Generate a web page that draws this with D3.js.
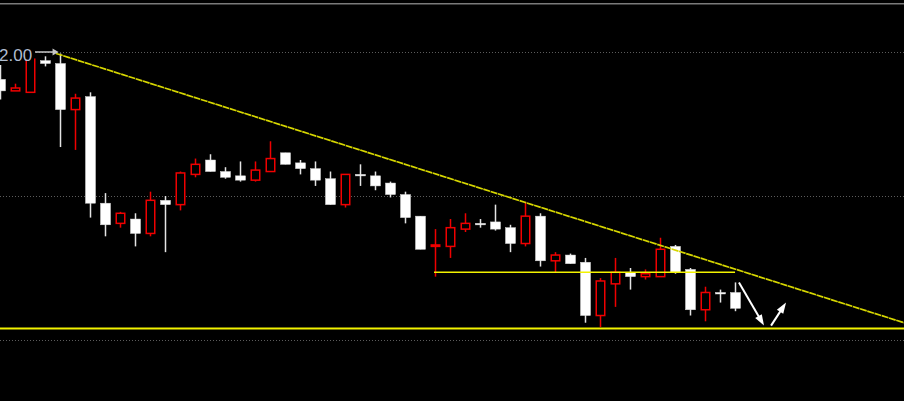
<!DOCTYPE html>
<html>
<head>
<meta charset="utf-8">
<script src="https://cdn.jsdelivr.net/npm/d3@7"></script>
<style>
	html, body { margin: 0; padding: 0; background: #000; }
	#graph { width: 904px; height: 401px; overflow: hidden; }
</style>
</head>
<body>
<div id="graph"></div>
<script>
	// daily candles, oldest first
	var opens = [1.981, 1.973, 1.972, 1.994, 1.992, 1.960, 1.969, 1.895, 1.881, 1.884,
		1.874, 1.897, 1.894, 1.915, 1.925, 1.917, 1.914, 1.911, 1.917, 1.930,
		1.923, 1.919, 1.912, 1.894, 1.915, 1.914, 1.909, 1.901, 1.886, 1.865,
		1.865, 1.877, 1.881, 1.882, 1.878, 1.867, 1.886, 1.855, 1.859, 1.854,
		1.817, 1.839, 1.847, 1.844, 1.844, 1.865, 1.849, 1.821, 1.833, 1.833];
	var highs = [1.991, 1.978, 1.995, 1.997, 1.999, 1.971, 1.972, 1.902, 1.889, 1.888,
		1.903, 1.900, 1.917, 1.926, 1.929, 1.920, 1.924, 1.924, 1.938, 1.930,
		1.925, 1.924, 1.917, 1.915, 1.922, 1.917, 1.910, 1.903, 1.886, 1.877,
		1.884, 1.888, 1.884, 1.894, 1.880, 1.896, 1.888, 1.861, 1.860, 1.857,
		1.843, 1.857, 1.850, 1.849, 1.871, 1.866, 1.850, 1.837, 1.835, 1.840];
	var lows = [1.967, 1.973, 1.972, 1.990, 1.934, 1.932, 1.885, 1.872, 1.878, 1.865,
		1.872, 1.861, 1.890, 1.913, 1.917, 1.912, 1.910, 1.910, 1.917, 1.922,
		1.915, 1.907, 1.894, 1.892, 1.907, 1.904, 1.899, 1.881, 1.863, 1.844,
		1.857, 1.875, 1.878, 1.876, 1.861, 1.865, 1.851, 1.847, 1.853, 1.812,
		1.809, 1.823, 1.835, 1.842, 1.844, 1.846, 1.817, 1.813, 1.826, 1.820];
	var closes = [1.973, 1.975, 1.995, 1.992, 1.960, 1.968, 1.895, 1.880, 1.888, 1.874,
		1.897, 1.894, 1.916, 1.922, 1.917, 1.913, 1.911, 1.918, 1.926, 1.922,
		1.919, 1.911, 1.894, 1.915, 1.914, 1.907, 1.901, 1.885, 1.863, 1.866,
		1.878, 1.881, 1.880, 1.877, 1.867, 1.886, 1.855, 1.859, 1.853, 1.817,
		1.841, 1.847, 1.844, 1.846, 1.863, 1.847, 1.821, 1.833, 1.832, 1.822];

	var gridprices = [2.00, 1.90, 1.80];
	var labelprice = 2.00;

	// drawn lines, in candle index / price
	var trendline = [{i: 3.7, price: 1.999}, {i: 60.23, price: 1.812}];
	var supportline = [{i: 28.9, price: 1.847}, {i: 48.97, price: 1.847}];
	var floorline = [{i: -1, price: 1.808}, {i: 61, price: 1.808}];
	var labelmarker = [{i: 2.3, price: 2.00}, {i: 3.87, price: 2.00}];
	var arrows = [
		[{i: 49.23, price: 1.840}, {i: 50.9, price: 1.810}],
		[{i: 51.37, price: 1.810}, {i: 52.37, price: 1.826}],
	];

	var config = {
		width: 904,
		height: 401,
		bodywidth: 10,
		up: "#f00000",
		down: "#ffffff",
		yellow: "#f2f200",
		trend: "#d6d600",
		grid: "#5c5c5c",
	};

	var dataset = opens.map((o, k) => ({i: k, open: o, high: highs[k], low: lows[k], close: closes[k]}));

	var svg = d3.select("#graph").append("svg")
		.attr("width", config.width)
		.attr("height", config.height)
		.style("display", "block")
		.style("background", "#000");

	var xScale = d3.scaleLinear().domain([0, 60]).range([0.5, 900.5]);
	var yScale = d3.scaleLinear().domain([1.80, 2.00]).range([340, 52]);

	// frame line on top
	svg.append("line")
		.attr("x1", 0).attr("x2", config.width)
		.attr("y1", 3.75).attr("y2", 3.75)
		.attr("stroke", "#7a7a7a")
		.attr("stroke-width", 1.5);

	// dotted price grid
	svg.append("g").selectAll("line")
		.data(gridprices)
		.join("line")
		.attr("x1", 0).attr("x2", config.width)
		.attr("y1", d => Math.round(yScale(d)) + 0.5)
		.attr("y2", d => Math.round(yScale(d)) + 0.5)
		.attr("stroke", config.grid)
		.attr("stroke-dasharray", "1,2");

	var line = d3.line()
		.x(d => xScale(d.i))
		.y(d => yScale(d.price));

	// candles
	var candles = svg.append("g").selectAll("g")
		.data(dataset)
		.join("g")
		.attr("transform", d => `translate(${xScale(d.i)},0)`);

	candles.each(function(d){
		var g = d3.select(this);
		var rising = d.close > d.open;
		var top = yScale(Math.max(d.open, d.close));
		var bottom = yScale(Math.min(d.open, d.close));
		var bw = config.bodywidth;

		if(rising){
			// hollow red body, wick drawn outside the body
			g.append("line")
				.attr("y1", yScale(d.high)).attr("y2", top)
				.attr("stroke", config.up).attr("stroke-width", 1.5);
			g.append("line")
				.attr("y1", bottom).attr("y2", yScale(d.low))
				.attr("stroke", config.up).attr("stroke-width", 1.5);
			g.append("rect")
				.attr("x", -(bw - 1.5) / 2)
				.attr("y", top)
				.attr("width", bw - 1.5)
				.attr("height", Math.max(bottom - top, 1))
				.attr("fill", "#000")
				.attr("stroke", config.up)
				.attr("stroke-width", 1.5);
		} else {
			g.append("line")
				.attr("y1", yScale(d.high)).attr("y2", yScale(d.low))
				.attr("stroke", "#e4e4e4").attr("stroke-width", 1.5);
			g.append("rect")
				.attr("x", -bw / 2)
				.attr("y", top)
				.attr("width", bw)
				.attr("height", Math.max(bottom - top, 1.5))
				.attr("fill", config.down)
				.attr("stroke", "#d8d8d8")
				.attr("stroke-width", 0.5);
		}
	});

	// trend & support lines
	svg.append("path")
		.attr("d", line(trendline))
		.attr("fill", "none")
		.attr("stroke", config.trend)
		.attr("stroke-width", 1.7)
		.attr("stroke-dasharray", "7,0.6");

	svg.append("path")
		.attr("d", line(supportline))
		.attr("fill", "none")
		.attr("stroke", config.yellow)
		.attr("stroke-width", 1.6);

	svg.append("path")
		.attr("d", line(floorline))
		.attr("fill", "none")
		.attr("stroke", config.yellow)
		.attr("stroke-width", 2);

	// price label top-left
	var labelgroup = svg.append("g");
	labelgroup.append("rect")
		.attr("x", 0).attr("y", yScale(labelprice) - 8)
		.attr("width", xScale(labelmarker[0].i) - 1)
		.attr("height", 16)
		.attr("fill", "#000");
	labelgroup.append("text")
		.attr("x", -1)
		.attr("y", yScale(labelprice))
		.attr("dy", "0.52em")
		.attr("fill", "#b0bcd0")
		.style("font-family", "'Liberation Sans', Arial, sans-serif")
		.style("font-size", "17px")
		.text(d3.format(".2f")(labelprice));

	drawarrow(labelgroup, labelmarker[0], labelmarker[1], "#c8c8c8", 1.5, 6, 3.5);

	// hand drawn arrows
	var arrowgroup = svg.append("g");
	arrows.forEach(a => drawarrow(arrowgroup, a[0], a[1], "#ffffff", 2, 11, 3.8));

	function drawarrow(parent, from, to, color, width, headlen, halfwidth){
		let x0 = xScale(from.i), y0 = yScale(from.price);
		let x1 = xScale(to.i), y1 = yScale(to.price);
		let len = Math.hypot(x1 - x0, y1 - y0);
		let ux = (x1 - x0) / len, uy = (y1 - y0) / len;
		let bx = x1 - ux * headlen, by = y1 - uy * headlen;

		parent.append("line")
			.attr("x1", x0).attr("y1", y0)
			.attr("x2", bx + ux * 2).attr("y2", by + uy * 2)
			.attr("stroke", color)
			.attr("stroke-width", width);

		parent.append("path")
			.attr("d", `M${x1},${y1}L${bx - uy * halfwidth},${by + ux * halfwidth}L${bx + uy * halfwidth},${by - ux * halfwidth}Z`)
			.attr("fill", color);
	}
</script>
</body>
</html>
